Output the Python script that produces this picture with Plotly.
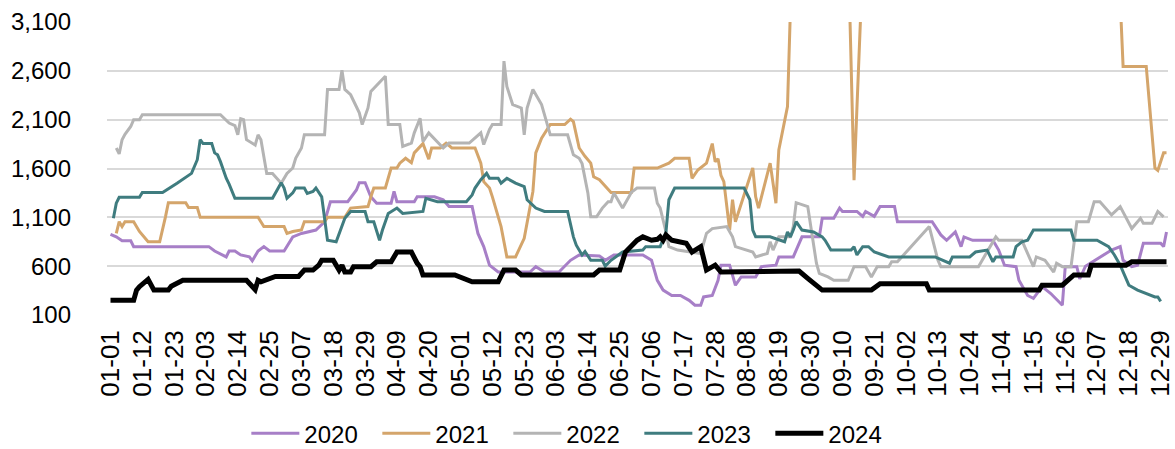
import pandas as pd
import plotly.graph_objects as go

# all calendar days (leap year) used as categories on the x axis
days = pd.date_range("2024-01-01", "2024-12-31").strftime("%m-%d").tolist()
tick_days = days[::11]

y_ticks = [100, 600, 1100, 1600, 2100, 2600, 3100]

# 2020
x_2020 = ["01-01", "01-03", "01-05", "01-08", "01-09", "02-04", "02-06", "02-10", "02-11", "02-13",
          "02-15", "02-18", "02-19", "02-21", "02-23", "02-25", "03-01", "03-04", "03-07", "03-12",
          "03-15", "03-17", "03-23", "03-26", "03-27", "03-29", "03-31", "04-02", "04-07", "04-08",
          "04-09", "04-15", "04-16", "04-22", "04-25", "04-27", "05-05", "05-07", "05-09", "05-11",
          "05-14", "05-25", "05-27", "05-30", "06-04", "06-08", "06-11", "06-18", "06-20", "06-23",
          "07-03", "07-06", "07-08", "07-10", "07-13", "07-16", "07-19", "07-21", "07-23", "07-24",
          "07-27", "07-29", "07-30", "08-02", "08-04", "08-06", "08-11", "08-13", "08-18", "08-19",
          "08-24", "08-27", "09-02", "09-03", "09-07", "09-09", "09-10", "09-15", "09-17", "09-18",
          "09-21", "09-23", "09-28", "09-29", "10-11", "10-14", "10-16", "10-19", "10-21", "10-22",
          "10-25", "11-01", "11-03", "11-05", "11-09", "11-10", "11-13", "11-15", "11-18", "11-21",
          "11-25", "11-26", "11-30", "12-01", "12-03", "12-08", "12-12", "12-15", "12-16", "12-19",
          "12-21", "12-23", "12-29", "12-30", "12-31"]
y_2020 = [925, 900, 860, 860, 800, 800, 755, 695, 755, 755,
          715, 695, 655, 755, 800, 755, 755, 900, 935, 970,
          1055, 1260, 1260, 1380, 1455, 1455, 1310, 1245, 1245, 1365,
          1260, 1260, 1310, 1310, 1280, 1210, 1210, 935, 800, 610,
          540, 540, 595, 540, 540, 660, 715, 705, 660, 715,
          715, 660, 455, 355, 300, 300, 250, 200, 200, 285,
          300, 455, 610, 610, 405, 490, 490, 595, 610, 695,
          695, 900, 900, 1090, 1090, 1195, 1160, 1160, 1110, 1160,
          1110, 1210, 1210, 1055, 1055, 920, 865, 950, 800, 900,
          865, 865, 765, 610, 595, 455, 300, 270, 390, 320,
          200, 595, 595, 470, 600, 695, 765, 800, 660, 595,
          610, 835, 835, 800, 950]

# 2021 (runs far above the axis top in autumn)
x_2021 = ["01-03", "01-04", "01-05", "01-06", "01-09", "01-11", "01-14", "01-18", "01-20", "01-21",
          "01-27", "01-28", "01-31", "02-01", "02-21", "02-22", "02-23", "03-01", "03-02", "03-04",
          "03-07", "03-08", "03-15", "03-16", "03-22", "03-24", "03-30", "03-31", "04-01", "04-05",
          "04-06", "04-07", "04-09", "04-10", "04-12", "04-14", "04-15", "04-18", "04-20", "04-21",
          "04-24", "04-26", "04-28", "05-06", "05-08", "05-09", "05-11", "05-12", "05-15", "05-17",
          "05-20", "05-23", "05-26", "05-27", "05-29", "06-01", "06-06", "06-08", "06-09", "06-11",
          "06-13", "06-15", "06-16", "06-18", "06-22", "06-29", "06-30", "07-08", "07-12", "07-14",
          "07-19", "07-20", "07-22", "07-24", "07-25", "07-27", "07-28", "07-29", "07-30", "07-31",
          "08-02", "08-03", "08-04", "08-10", "08-11", "08-12", "08-16", "08-18", "08-19", "08-22",
          "08-24", "09-03", "09-11", "09-14", "09-17", "10-07", "11-16", "12-14", "12-16", "12-24",
          "12-27", "12-28", "12-30", "12-31"]
y_2021 = [935, 1055, 1005, 1055, 1055, 955, 850, 850, 1105, 1250,
          1250, 1200, 1200, 1100, 1100, 1055, 1005, 1005, 935, 955,
          970, 1055, 1055, 1100, 1100, 1195, 1210, 1310, 1400, 1400,
          1515, 1605, 1605, 1655, 1705, 1660, 1760, 1855, 1695, 1810,
          1810, 1860, 1810, 1810, 1655, 1465, 1400, 1310, 1005, 695,
          695, 885, 1365, 1760, 1910, 2050, 2050, 2105, 2080, 1810,
          1725, 1655, 1515, 1485, 1355, 1355, 1605, 1605, 1655, 1705,
          1705, 1500, 1585, 1635, 1655, 1855, 1670, 1700, 1530, 1465,
          970, 1280, 1055, 1605, 1310, 1195, 1655, 1245, 1790, 2235,
          4200, 5500, 5000, 1480, 3700, 5500, 6000, 4000, 2645, 2645,
          1605, 1580, 1760, 1760]

# 2022
x_2022 = ["01-03", "01-04", "01-05", "01-06", "01-08", "01-09", "01-11", "01-12", "02-08", "02-10",
          "02-11", "02-13", "02-14", "02-15", "02-16", "02-17", "02-19", "02-20", "02-21", "02-22",
          "02-24", "02-26", "02-29", "03-02", "03-04", "03-05", "03-07", "03-08", "03-15", "03-16",
          "03-20", "03-21", "03-22", "03-24", "03-27", "03-28", "03-30", "03-31", "04-05", "04-06",
          "04-10", "04-11", "04-14", "04-15", "04-17", "04-18", "04-20", "04-25", "04-27", "05-04",
          "05-08", "05-09", "05-11", "05-12", "05-15", "05-16", "05-17", "05-19", "05-22", "05-23",
          "05-24", "05-26", "05-29", "05-31", "06-01", "06-07", "06-09", "06-11", "06-12", "06-14",
          "06-15", "06-17", "06-19", "06-21", "06-22", "06-23", "06-26", "06-28", "06-29", "07-01",
          "07-07", "07-08", "07-09", "07-11", "07-12", "07-15", "07-19", "07-23", "07-25", "07-27",
          "08-01", "08-03", "08-04", "08-10", "08-11", "08-15", "08-16", "08-17", "08-19", "08-23",
          "08-24", "08-25", "08-29", "09-01", "09-02", "09-05", "09-07", "09-12", "09-14", "09-18",
          "09-20", "09-22", "09-26", "09-27", "09-29", "10-10", "10-13", "10-14", "10-27", "10-31",
          "11-02", "11-03", "11-11", "11-15", "11-16", "11-19", "11-22", "11-23", "11-25", "11-28",
          "11-30", "12-04", "12-06", "12-08", "12-12", "12-15", "12-19", "12-22", "12-23", "12-26",
          "12-28", "12-30"]
y_2022 = [1810, 1750, 1895, 1950, 2030, 2100, 2100, 2150, 2150, 2100,
          2065, 2040, 1945, 2110, 2100, 1895, 1860, 1840, 1945, 1895,
          1550, 1550, 1450, 1550, 1605, 1705, 1810, 1945, 1945, 2410,
          2410, 2605, 2410, 2355, 2170, 2050, 2220, 2390, 2545, 2050,
          2050, 1825, 1860, 1965, 2115, 1875, 1965, 1810, 1860, 1860,
          1965, 1845, 2000, 2050, 2050, 2700, 2440, 2255, 2220, 1945,
          2220, 2410, 2255, 2030, 1945, 1945, 1740, 1705, 1650, 1350,
          1105, 1105, 1195, 1260, 1260, 1350, 1195, 1300, 1355, 1400,
          1400, 1245, 1195, 950, 800, 765, 745, 730, 935, 985,
          1005, 900, 800, 745, 695, 730, 850, 765, 900, 900,
          1005, 1250, 1210, 630, 525, 490, 455, 455, 595, 595,
          490, 595, 595, 645, 645, 1005, 660, 595, 595, 800,
          900, 865, 865, 595, 695, 660, 540, 630, 595, 595,
          1055, 1055, 1260, 1260, 1125, 1210, 985, 1090, 1040, 1040,
          1160, 1105]

# 2023
x_2023 = ["01-02", "01-03", "01-04", "01-11", "01-12", "01-19", "01-24", "01-29", "01-31", "02-01",
          "02-02", "02-05", "02-06", "02-07", "02-08", "02-10", "02-11", "02-13", "02-26", "02-27",
          "02-29", "03-01", "03-02", "03-04", "03-05", "03-08", "03-09", "03-11", "03-12", "03-14",
          "03-15", "03-16", "03-19", "03-20", "03-22", "03-24", "03-29", "03-30", "04-01", "04-03",
          "04-04", "04-06", "04-09", "04-11", "04-18", "04-19", "04-23", "05-03", "05-05", "05-06",
          "05-08", "05-10", "05-11", "05-14", "05-15", "05-17", "05-20", "05-23", "05-24", "05-27",
          "05-30", "06-07", "06-09", "06-10", "06-12", "06-13", "06-15", "06-19", "06-20", "06-22",
          "06-26", "07-03", "07-04", "07-09", "07-11", "07-12", "07-14", "08-07", "08-09", "08-10",
          "08-11", "08-16", "08-19", "08-21", "08-22", "08-23", "08-24", "08-25", "08-27", "08-31",
          "09-03", "09-04", "09-06", "09-13", "09-14", "09-15", "09-17", "09-19", "09-21", "09-24",
          "09-26", "10-12", "10-15", "10-17", "10-18", "10-24", "10-26", "10-30", "11-01", "11-02",
          "11-08", "11-09", "11-11", "11-13", "11-15", "11-28", "11-29", "12-07", "12-11", "12-13",
          "12-15", "12-18", "12-21", "12-24", "12-27", "12-28", "12-29"]
y_2023 = [1090, 1245, 1305, 1305, 1355, 1355, 1450, 1550, 1690, 1895,
          1855, 1855, 1760, 1740, 1670, 1500, 1440, 1295, 1295, 1350,
          1455, 1400, 1295, 1350, 1400, 1400, 1345, 1365, 1400, 1310,
          1105, 865, 850, 935, 1090, 1160, 1160, 1055, 1055, 865,
          970, 1140, 1195, 1140, 1160, 1295, 1260, 1260, 1330, 1400,
          1485, 1550, 1500, 1500, 1450, 1500, 1450, 1415, 1280, 1195,
          1160, 1160, 900, 815, 715, 750, 660, 660, 600, 660,
          745, 765, 800, 800, 950, 1280, 1400, 1400, 1280, 970,
          900, 900, 865, 850, 950, 900, 970, 1055, 970, 950,
          900, 865, 765, 765, 800, 715, 800, 800, 745, 715,
          695, 695, 660, 630, 695, 695, 745, 765, 645, 695,
          695, 800, 850, 865, 970, 970, 865, 865, 800, 715,
          610, 405, 355, 320, 285, 285, 240]

# 2024
x_2024 = ["01-01", "01-09", "01-10", "01-11", "01-14", "01-16", "01-21", "01-22", "01-26", "02-17",
          "02-20", "02-21", "02-22", "02-27", "03-06", "03-08", "03-11", "03-13", "03-14", "03-18",
          "03-20", "03-21", "03-22", "03-24", "03-25", "03-31", "04-02", "04-07", "04-09", "04-14",
          "04-16", "04-17", "04-18", "04-29", "05-05", "05-14", "05-16", "05-20", "05-22", "06-16",
          "06-18", "06-25", "06-27", "06-29", "07-01", "07-03", "07-06", "07-08", "07-09", "07-10",
          "07-11", "07-13", "07-15", "07-18", "07-20", "07-22", "07-23", "07-25", "07-28", "07-30",
          "08-26", "08-29", "09-01", "09-03", "09-20", "09-22", "09-23", "10-09", "10-10", "11-17",
          "11-18", "11-25", "11-27", "11-29", "12-04", "12-05", "12-17", "12-19", "12-31"]
y_2024 = [250, 250, 355, 390, 465, 355, 355, 395, 455, 455,
          360, 455, 440, 495, 495, 560, 560, 610, 660, 660,
          560, 610, 540, 540, 595, 595, 645, 645, 745, 745,
          630, 595, 510, 510, 440, 440, 560, 560, 510, 510,
          560, 560, 745, 800, 865, 900, 865, 875, 900, 865,
          920, 865, 850, 835, 745, 790, 800, 560, 610, 540,
          550, 475, 405, 355, 355, 390, 420, 420, 355, 355,
          405, 405, 455, 510, 510, 610, 610, 645, 645]

series = [
    ("2020", x_2020, y_2020, "#A77FC7", 3),
    ("2021", x_2021, y_2021, "#D4A56B", 3),
    ("2022", x_2022, y_2022, "#B4B4B4", 3),
    ("2023", x_2023, y_2023, "#3F7C7F", 3),
    ("2024", x_2024, y_2024, "#000000", 5),
]

fig = go.Figure()
for name, xs, ys, color, width in series:
    fig.add_trace(go.Scatter(x=xs, y=ys, name=name, mode="lines",
                             line=dict(color=color, width=width)))

font = "Arial, Liberation Sans, sans-serif"
fig.update_layout(
    width=1175, height=449,
    margin=dict(l=107, r=7, t=22, b=134, autoexpand=False),
    paper_bgcolor="white", plot_bgcolor="white",
    font=dict(family=font, size=24, color="#000000"),
    showlegend=True,
    legend=dict(orientation="h", x=0.44, xanchor="center", y=-0.405, yanchor="middle",
                font=dict(size=24), itemwidth=48, entrywidth=68,
                bgcolor="rgba(0,0,0,0)"),
)
fig.update_xaxes(type="category", categoryorder="array", categoryarray=days,
                 tickmode="array", tickvals=tick_days, ticktext=tick_days,
                 tickangle=-90, range=[-1.21, 365.52], showgrid=False, automargin=False,
                 showline=False, zeroline=False, ticks="", ticklabelstandoff=9,
                 tickfont=dict(size=26))
fig.update_yaxes(range=[100, 3100], tickmode="array", tickvals=y_ticks, automargin=False,
                 tickformat=",d", showgrid=True, gridcolor="#D9D9D9", gridwidth=1.5,
                 zeroline=False, showline=False, ticks="", ticklabelstandoff=35)

# drop the page's default body margin so the figure sits at the window origin
fig.write_html("out.html", config={"displayModeBar": False},
               post_script="document.body.style.margin = '0';")
